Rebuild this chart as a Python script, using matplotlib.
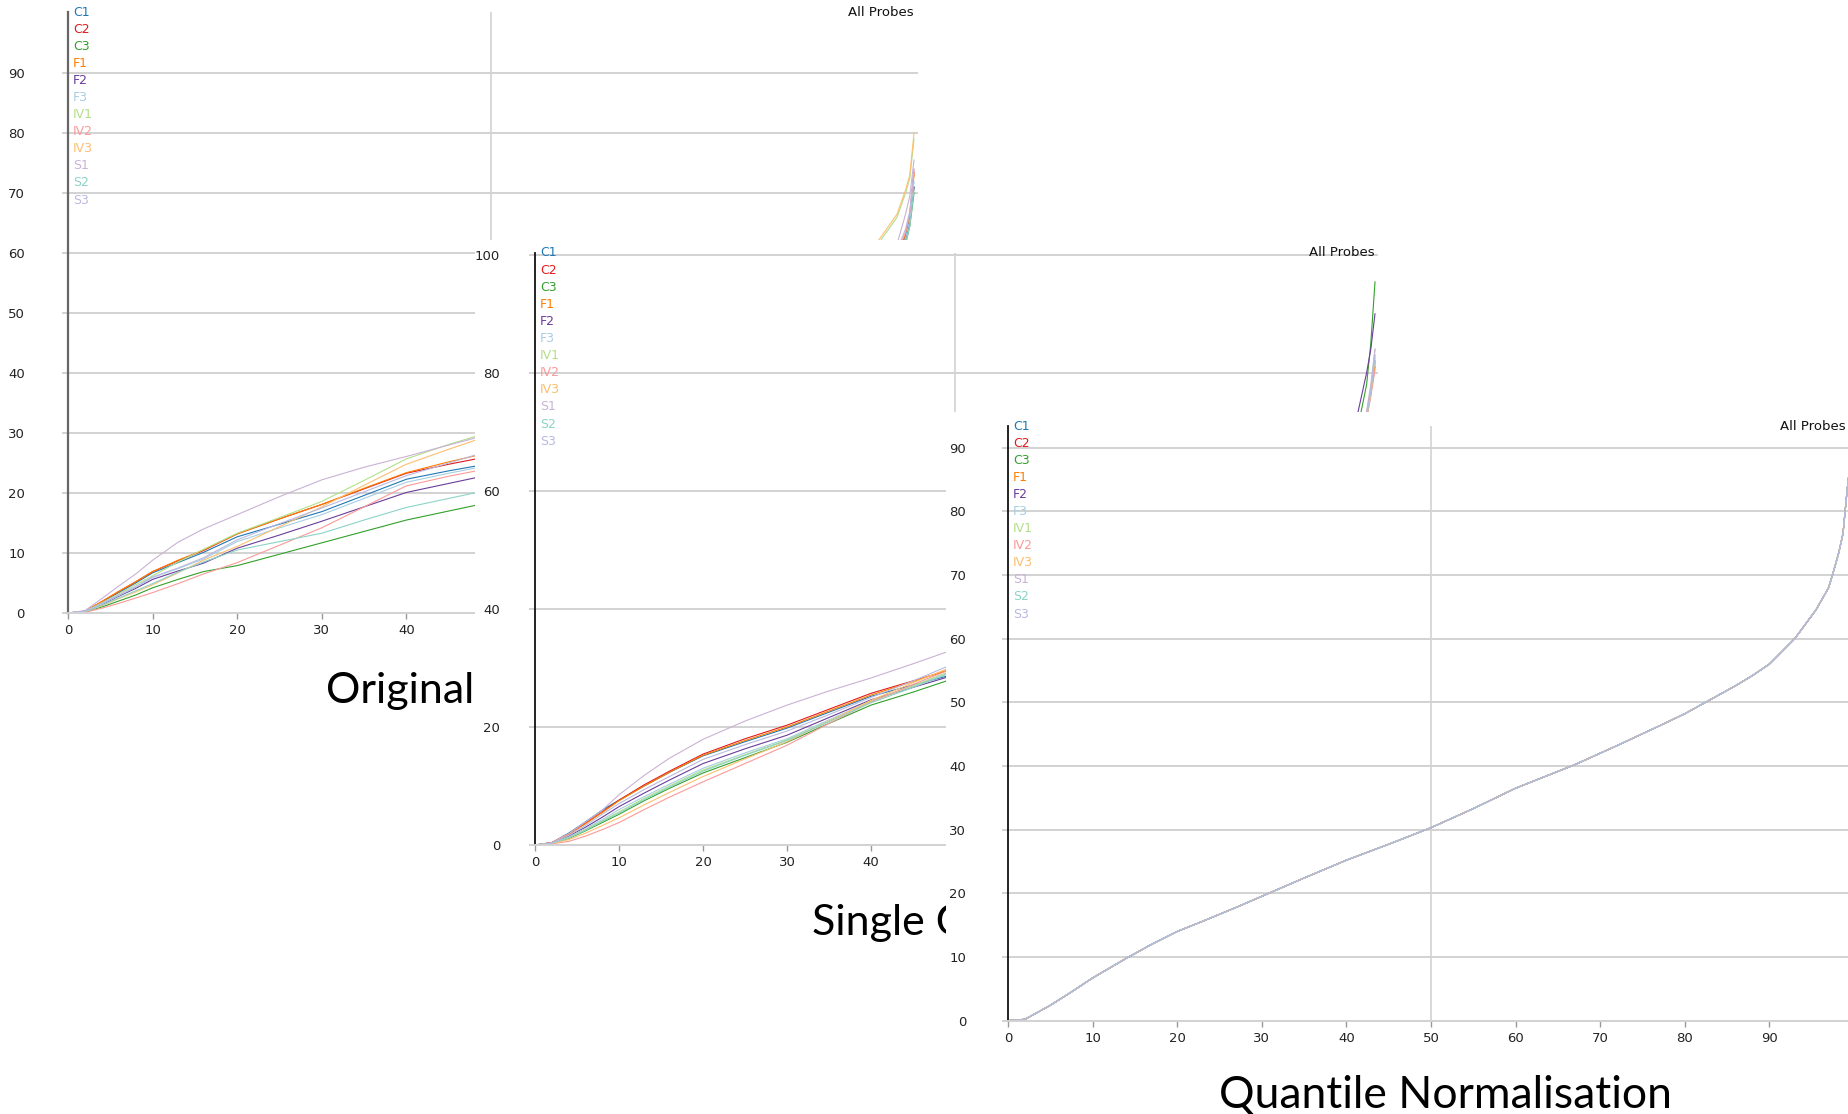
import matplotlib.pyplot as plt
from matplotlib.patches import Rectangle
from matplotlib.transforms import offset_copy

W, H = 1848, 1114  # output size in pixels (dpi 100)

samples = ["C1", "C2", "C3", "F1", "F2", "F3", "IV1", "IV2", "IV3", "S1", "S2", "S3"]
colours = ["#1f78b4", "#e31a1c", "#33a02c", "#ff7f00", "#6a3d9a", "#a6cee3",
           "#b2df8a", "#fb9a99", "#fdbf6f", "#cab2d6", "#8dd3c7", "#b9b9e2"]

# percentile positions shared by the first two panels
pct = [0, 2, 4, 6, 8, 10, 13, 16, 20, 25, 30, 35, 40, 45, 49,
       60, 75, 90, 95, 97, 98, 99, 99.5, 100]

# --- Original ---
orig_c1 = [0, 0.3, 1.8, 3.4, 5.0, 6.7, 8.4, 10.1, 12.7, 14.8, 16.9, 19.6, 22.3, 23.7, 24.7,
           28, 33, 42, 50, 55, 59, 62.5, 65.5, 71]
orig_c2 = [0, 0.3, 1.9, 3.6, 5.2, 6.9, 8.7, 10.4, 13.2, 15.7, 18.1, 20.7, 23.3, 24.8, 25.9,
           29.5, 35, 43, 50, 55.5, 59.5, 63, 66, 73.5]
orig_c3 = [0, 0.2, 1.0, 2.0, 3.0, 4.2, 5.6, 6.9, 7.9, 9.8, 11.7, 13.6, 15.5, 17.0, 18.2,
           22, 28, 38, 47, 53, 57.5, 61.5, 64.5, 70]
orig_f1 = [0, 0.3, 1.9, 3.6, 5.2, 6.9, 8.8, 10.5, 13.2, 15.7, 18.1, 20.8, 23.4, 25.2, 26.5,
           30, 35.5, 43, 50, 55.5, 59.5, 63, 66.5, 73]
orig_f2 = [0, 0.2, 1.4, 2.8, 4.1, 5.6, 7.0, 8.3, 10.8, 13.0, 15.3, 17.7, 20.1, 21.6, 22.8,
           26, 31.5, 40, 48, 54, 58.5, 62.5, 65.5, 71]
orig_f3 = [0, 0.3, 1.5, 2.9, 4.3, 5.9, 7.4, 9.0, 11.9, 14.2, 16.4, 19.1, 21.8, 23.3, 24.4,
           27.5, 33, 41, 49, 54.5, 59, 62.5, 65.5, 72]
orig_iv1 = [0, 0.3, 1.7, 3.2, 4.7, 6.2, 8.5, 10.6, 13.3, 15.9, 18.6, 22.1, 25.7, 28.1, 29.8,
            34, 41, 51, 60, 64, 66, 70, 72.5, 79]
orig_iv2 = [0, 0.1, 0.8, 1.6, 2.5, 3.4, 4.9, 6.5, 8.4, 11.3, 14.2, 17.7, 21.2, 22.8, 23.9,
            27.5, 33.5, 42, 50, 55.5, 60, 63.5, 66.5, 74]
orig_iv3 = [0, 0.2, 1.2, 2.4, 3.5, 4.7, 6.7, 8.8, 11.1, 14.4, 17.7, 21.3, 24.8, 27.3, 29.2,
            33.5, 41, 51, 60.5, 64.5, 66.5, 70.5, 73, 80]
orig_s1 = [0, 0.4, 2.4, 4.5, 6.5, 8.8, 11.8, 14.0, 16.4, 19.4, 22.2, 24.3, 26.1, 28.0, 29.5,
           33, 39, 47, 52, 57, 61.5, 66.5, 69.5, 75.5]
orig_s2 = [0, 0.2, 1.3, 2.5, 3.7, 4.9, 6.8, 8.5, 10.5, 11.9, 13.3, 15.5, 17.6, 19.1, 20.3,
           24, 30, 39, 47, 53, 57.5, 61.5, 64.5, 70.5]
orig_s3 = [0, 0.3, 1.6, 3.0, 4.4, 6.0, 7.5, 9.2, 12.2, 14.9, 17.5, 20.2, 22.9, 25.0, 26.7,
           30, 36, 44, 51, 56, 60.5, 64, 67, 74]

# --- Single Channel Normalisation ---
single_c1 = [0, 0.4, 2.0, 3.9, 5.9, 7.6, 10.0, 12.3, 15.1, 17.5, 19.8, 22.5, 25.2, 27.1, 28.6,
             33, 40, 49, 57, 63, 67, 72.5, 76.5, 81]
single_c2 = [0, 0.4, 1.8, 3.7, 5.6, 7.6, 10.2, 12.5, 15.4, 18.0, 20.3, 23.0, 25.7, 27.8, 29.5,
             34, 41, 50, 58, 64, 68, 73, 77, 82]
single_c3 = [0, 0.3, 1.1, 2.4, 3.8, 5.2, 7.5, 9.6, 12.2, 14.8, 17.4, 20.6, 23.7, 25.9, 27.8,
             32, 39, 49, 60, 66, 71, 78, 85, 95.4]
single_f1 = [0, 0.4, 1.8, 3.6, 5.5, 7.5, 10.0, 12.3, 15.2, 17.7, 20.0, 22.7, 25.4, 27.7, 29.6,
             34, 41, 50, 58, 63.5, 67.5, 72.5, 76.5, 81.5]
single_f2 = [0, 0.3, 1.5, 3.0, 4.7, 6.5, 8.8, 11.0, 13.8, 16.3, 18.6, 21.6, 24.6, 26.7, 28.4,
             33, 40, 50, 61, 68, 73.5, 80, 84, 90]
single_f3 = [0, 0.3, 1.3, 2.8, 4.3, 6.0, 8.2, 10.3, 13.0, 15.6, 18.0, 21.2, 24.4, 26.9, 29.0,
             33.5, 41, 50, 58, 63.5, 67.5, 72.5, 77, 83]
single_iv1 = [0, 0.3, 1.2, 2.6, 4.1, 5.6, 7.9, 10.0, 12.7, 15.3, 17.8, 21.0, 24.3, 27.0, 29.2,
              34, 41, 50, 58, 64, 68, 73, 77.5, 84]
single_iv2 = [0, 0.2, 0.6, 1.5, 2.6, 3.8, 6.0, 8.1, 10.7, 13.8, 16.9, 20.6, 24.2, 27.2, 29.5,
              34, 41, 50, 58, 63.5, 67.5, 72, 76, 80.5]
single_iv3 = [0, 0.2, 0.9, 2.0, 3.3, 4.6, 6.8, 8.9, 11.6, 14.6, 17.5, 21.0, 24.5, 27.5, 29.8,
              34.5, 41.5, 50.5, 58.5, 64, 68, 72.5, 76.5, 82]
single_s1 = [0, 0.4, 1.9, 3.9, 5.9, 8.5, 11.8, 14.7, 17.9, 21.0, 23.7, 26.1, 28.3, 30.7, 32.7,
             37, 43, 51, 59, 64.5, 68.5, 73.5, 78, 84]
single_s2 = [0, 0.3, 1.2, 2.5, 4.0, 5.4, 7.7, 9.8, 12.5, 15.2, 17.7, 20.9, 24.1, 26.7, 28.9,
             33.5, 40.5, 50, 58, 63.5, 67.5, 72.5, 77, 82.5]
single_s3 = [0, 0.3, 1.6, 3.3, 5.2, 7.0, 9.4, 11.6, 14.5, 17.0, 19.3, 22.1, 25.0, 27.8, 30.2,
             35, 42, 51, 59, 64, 68, 73, 77, 83]

# --- Quantile Normalisation (all samples identical) ---
quant_pct = [0, 2, 5, 7.5, 10, 14, 17, 20, 23, 27, 31, 35, 40, 45, 50, 55, 60, 67, 72, 77,
             80, 83, 86, 88, 90, 93, 95.5, 97, 97.5, 98.2, 98.7, 99.2, 100]
quant_val = [0, 0.2, 2.4, 4.5, 6.7, 9.8, 12.0, 14.0, 15.6, 17.8, 20.1, 22.4, 25.2, 27.7, 30.3,
             33.3, 36.5, 40.2, 43.2, 46.3, 48.2, 50.4, 52.6, 54.2, 56.0, 60.0, 64.5, 68.0,
             70.2, 73.5, 76.5, 83.5, 93]

original = [orig_c1, orig_c2, orig_c3, orig_f1, orig_f2, orig_f3,
            orig_iv1, orig_iv2, orig_iv3, orig_s1, orig_s2, orig_s3]
single = [single_c1, single_c2, single_c3, single_f1, single_f2, single_f3,
          single_iv1, single_iv2, single_iv3, single_s1, single_s2, single_s3]

GRID = "#d2d2d2"

fig = plt.figure(figsize=(W / 100, H / 100), dpi=100)


def px_axes(x0, top, x1, bottom, z):
    return fig.add_axes([x0 / W, 1 - bottom / H, (x1 - x0) / W, (bottom - top) / H], zorder=z)


def frame(x0, top, z):
    # white sheet that hides whatever panel lies beneath it
    ax = px_axes(x0, top, W, H, z)
    ax.set_axis_off()
    ax.add_patch(Rectangle((0, 0), 1, 1, transform=ax.transAxes, facecolor="white", edgecolor="none"))
    return ax


def chart(ax, xmax, ymax, yticks, xticks, ypad, spine_col, spine_w, label_x=100):
    ax.set_xlim(0, xmax)
    ax.set_ylim(0, ymax)
    for s in ("top", "right"):
        ax.spines[s].set_visible(False)
    ax.spines["left"].set_color(spine_col)
    ax.spines["left"].set_linewidth(spine_w)
    ax.spines["bottom"].set_color(GRID)
    ax.spines["bottom"].set_linewidth(1.4)
    ax.set_yticks(yticks)
    ax.set_xticks(xticks)
    ax.yaxis.grid(True, color=GRID, lw=1.4)
    ax.axvline(50, color=GRID, lw=1.2, zorder=0.5)
    ax.set_axisbelow(True)
    ax.tick_params(axis="y", length=4, width=1.4, color=GRID, pad=ypad,
                   labelsize=9.5, labelcolor="#222222")
    ax.tick_params(axis="x", length=4, width=1, color="#999999", pad=4,
                   labelsize=9.5, labelcolor="#222222")
    for i, (name, c) in enumerate(zip(samples, colours)):
        tr = offset_copy(ax.transAxes, fig=fig, x=5, y=-17.1 * i, units="dots")
        ax.text(0, 1, name, transform=tr, color=c, fontsize=9, ha="left", va="center")
    ax.text(label_x, ymax, "All Probes", ha="right", va="center", fontsize=9.5,
            color="#111111", clip_on=False)


# panel 1: Original
ax1 = px_axes(68, 12, 68 + 8.46 * 100.5, 613, 2)
chart(ax1, 100.5, 100.2, range(0, 100, 10), range(0, 101, 10), 27, "#666666", 1.6)
for vals, c in zip(original, colours):
    ax1.plot(pct, vals, color=c, lw=0.8)
fig.text(400 / W, 1 - 703 / H, "Original", family="Lato", fontsize=31,
         ha="center", va="baseline", zorder=5)

# panel 2: Single Channel Normalisation
frame(475, 240, 10)
ax2 = px_axes(535, 253, 535 + 8.4 * 100.3, 845, 11)
chart(ax2, 100.3, 100.3, range(0, 101, 20), range(0, 101, 10), 21, "#111111", 1.3)
for vals, c in zip(single, colours):
    ax2.plot(pct, vals, color=c, lw=0.8)
fig.text(812 / W, 1 - 935 / H, "Single Channel Normalisation", family="Lato",
         fontsize=31, ha="left", va="baseline", zorder=15)

# panel 3: Quantile Normalisation
frame(946, 412, 20)
ax3 = px_axes(1008, 426, 1008 + 8.46 * 100.5, 1020.6, 21)
chart(ax3, 100.5, 93.4, range(0, 100, 10), range(0, 100, 10), 26, "#111111", 1.3,
      label_x=99.0)
for c in colours:
    ax3.plot(quant_pct, quant_val, color=c, lw=0.8)
fig.text(1445 / W, 1 - 1108 / H, "Quantile Normalisation", family="Lato",
         fontsize=32, ha="center", va="baseline", zorder=25)

fig.savefig("out.png", dpi=100)
